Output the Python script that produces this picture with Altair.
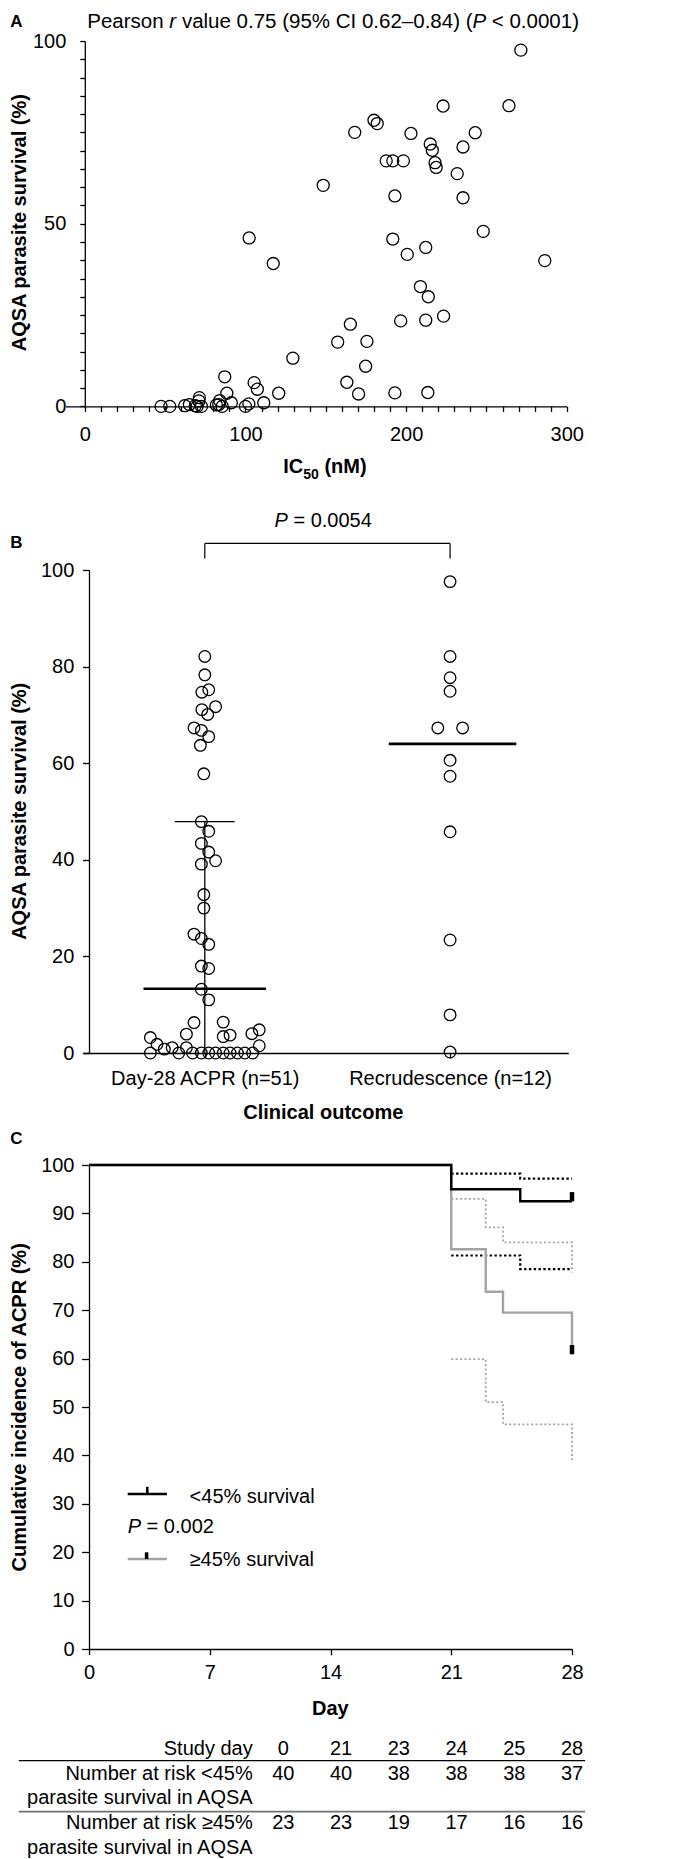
import altair as alt
import pandas as pd

FONT = "Liberation Sans"

# ---------------- Panel A: IC50 vs AQSA survival ----------------
ic50_nM = [271.4, 264.0, 223.0, 180.0, 182.0, 168.0, 203.0, 243.0, 215.0, 216.3,
           235.4, 187.6, 191.7, 198.3, 218.0, 218.7, 231.8, 148.4, 193.0, 235.4,
           248.0, 102.3, 191.7, 212.2, 200.7, 117.3, 286.3, 208.9, 213.8, 223.3,
           196.6, 212.2, 165.3, 157.4, 175.6, 129.5, 174.8, 163.1, 170.4, 193.0,
           213.5, 47.5, 52.9, 62.2, 65.1, 68.8, 71.0, 71.3, 69.9, 72.6,
           81.9, 83.4, 85.5, 87.1, 88.4, 91.2, 100.0, 102.1, 105.4, 107.4,
           111.4, 120.7, 84.0]
aqsa_A = [97.5, 82.3, 82.2, 78.3, 77.4, 75.0, 74.7, 74.9, 71.8, 70.1,
          71.0, 67.2, 67.2, 67.2, 66.7, 65.4, 63.7, 60.5, 57.6, 57.1,
          47.9, 46.1, 45.8, 43.5, 41.6, 39.1, 39.9, 32.8, 30.0, 24.7,
          23.4, 23.6, 22.5, 17.6, 17.8, 13.2, 11.0, 6.6, 3.4, 3.7,
          3.8, 0.0, 0.0, 0.2, 0.5, 0.2, 1.5, 2.4, 0.0, 0.0,
          0.4, 0.5, 0.0, 8.1, 3.6, 1.0, 0.0, 0.7, 6.5, 4.7,
          1.0, 3.6, 1.6]

# ---------------- Panel B: survival by clinical outcome ----------------
outcomes = ["Day-28 ACPR (n=51)", "Recrudescence (n=12)"]
acpr_surv = [82.1, 78.3, 74.7, 75.2, 71.1, 71.7, 70.1, 67.3, 66.8, 65.5, 63.7, 57.8,
             47.9, 45.9, 43.4, 41.6, 39.1, 39.8, 32.8, 30.0, 24.6, 23.7, 22.5, 18.0, 17.5, 13.2, 11.0,
             6.3, 6.4, 3.9, 3.4, 3.7, 3.2, 4.0, 4.8, 1.8, 1.1, 0.8, 1.1, 1.5,
             0, 0, 0, 0, 0, 0, 0, 0, 0, 0, 0]
acpr_jitter = [0, 0, -0.012, 0.016, -0.012, 0.044, 0.012, -0.044, -0.014, 0.016, -0.018, -0.004,
               -0.014, 0.016, -0.014, 0.016, -0.014, 0.044, -0.004, -0.004, -0.044, -0.014, 0.016, -0.014, 0.016, -0.014, 0.016,
               -0.044, 0.075, -0.075, 0.075, 0.103, -0.222, 0.192, 0.222, -0.195, -0.133, -0.165, -0.075, 0.222,
               -0.222, -0.106, -0.050, -0.014, 0.016, 0.044, 0.075, 0.103, 0.133, 0.163, 0.195]
recr_surv = [97.6, 82.1, 77.7, 74.9, 67.3, 67.3, 60.6, 57.3, 45.8, 23.4, 7.9, 0.2]
recr_jitter = [0, 0, 0, 0, -0.050, 0.051, 0, 0, 0, 0, 0, 0]
group_median = [13.3, 64.0]
acpr_q3 = 47.9
acpr_q1 = 0.0

# ---------------- Panel C: Kaplan-Meier ----------------
km_lt45_day = [0, 21, 25, 28]
km_lt45_pct = [100, 95.0, 92.5, 92.5]
ci_lt45_day = [21, 25, 28]
ci_lt45_upper = [98.2, 97.2, 97.2]
ci_lt45_lower = [81.3, 78.5, 78.5]
km_ge45_day = [0, 21, 23, 24, 28, 28]
km_ge45_pct = [100, 82.6, 73.8, 69.5, 69.5, 60.9]
ci_ge45_day = [21, 23, 24, 28, 28]
ci_ge45_upper = [93.0, 87.1, 84.0, 84.0, 77.8]
ci_ge45_lower = [59.9, 51.0, 46.4, 46.4, 38.7]
censor_day = [28, 28]
censor_lo = [92.5, 60.9]
censor_hi = [94.4, 62.8]

# ---------------- Number-at-risk table ----------------
study_days = [0, 21, 23, 24, 25, 28]
at_risk_lt45 = [40, 40, 38, 38, 38, 37]
at_risk_ge45 = [23, 23, 19, 17, 16, 16]

# ---------------- layout (page pixels) ----------------
X0 = 86.7
TOP_A, H_A = 39.3, 365.4
TOP_B = TOP_A + H_A
H_B = 646.0
TOP_C = TOP_B + H_B
H_C = 596.0
TOP_D = TOP_C + H_C
H_D = 212.0

one = pd.DataFrame({"k": [0]})
GRAY = "#a3a3a3"


def label(text, x, y, top, size=20, weight="normal", style="normal", align="left",
          baseline="middle", angle=0):
    return alt.Chart(one).mark_text(
        text=text, font=FONT, fontSize=size, fontWeight=weight, fontStyle=style,
        align=align, baseline=baseline, angle=angle, color="black", limit=0
    ).encode(x=alt.value(x - X0), y=alt.value(y - top))


def hline(x1, x2, y, top, color="black", width=1.3):
    return alt.Chart(one).mark_rule(color=color, strokeWidth=width).encode(
        x=alt.value(x1 - X0), x2=alt.value(x2 - X0), y=alt.value(y - top))


def vline(x, y1, y2, top, color="black", width=1.3):
    return alt.Chart(one).mark_rule(color=color, strokeWidth=width).encode(
        x=alt.value(x - X0), y=alt.value(y1 - top), y2=alt.value(y2 - top))


# ================= Panel A =================
dfA = pd.DataFrame({"ic50": ic50_nM, "surv": aqsa_A})
xA = alt.X("ic50:Q", scale=alt.Scale(domain=[-12, 300], range=[-23.5, 477.8], nice=False, zero=False),
           axis=alt.Axis(values=list(range(0, 301, 10)), tickSize=5, labelPadding=13,
                         labelExpr="datum.value % 100 == 0 ? datum.label : ''", title=None))
yA = alt.Y("surv:Q", scale=alt.Scale(domain=[0, 100], nice=False),
           axis=alt.Axis(values=list(range(0, 101, 5)), tickSize=5, labelPadding=14, offset=4.2,
                         labelExpr="datum.value % 50 == 0 ? datum.label : ''", title=None))
pointsA = alt.Chart(dfA).mark_point(shape="circle", filled=False, size=145, strokeWidth=1.3,
                                    color="black", opacity=1).encode(x=xA, y=yA)
anchor = alt.Chart(one).mark_rect(opacity=0).encode(
    x=alt.value(7 - X0), x2=alt.value(8 - X0), y=alt.value(7 - TOP_A), y2=alt.value(8 - TOP_A))

TS = 20.5  # title font size
TY = 20.0  # title line centre (page px)
panelA = alt.layer(
    pointsA, anchor,
    label("A", 8, TY, TOP_A, size=17, weight="bold"),
    label("Pearson", 85, TY, TOP_A, size=TS),
    label("r", 167.0, TY, TOP_A, size=TS, style="italic"),
    label("value 0.75 (95% CI 0.62\u20130.84) (", 179.6, TY, TOP_A, size=TS),
    label("P", 470.1, TY, TOP_A, size=TS, style="italic"),
    label("< 0.0001)", 489.5, TY, TOP_A, size=TS),
    label("AQSA parasite survival (%)", 18, 221, TOP_A, weight="bold", align="center", angle=270),
    label("IC", 281, 471.7, TOP_A, weight="bold", baseline="alphabetic"),
    label("50", 301, 477.5, TOP_A, size=14, weight="bold", baseline="alphabetic"),
    label("(nM)", 322.1, 471.7, TOP_A, weight="bold", baseline="alphabetic"),
).properties(width=478, height=H_A)

# ================= Panel B =================
dfB = pd.DataFrame({
    "x": [1 + j for j in acpr_jitter] + [2 + j for j in recr_jitter],
    "y": acpr_surv + recr_surv,
})
lab_expr = "datum.value == 1 ? '%s' : '%s'" % (outcomes[0], outcomes[1])
xB = alt.X("x:Q", scale=alt.Scale(domain=[0.503, 2.482], range=[-6.1, 479.3], nice=False, zero=False),
           axis=alt.Axis(values=[1, 2], tickSize=5, labelPadding=10, labelExpr=lab_expr, title=None,
                         labelLimit=400))
yB = alt.Y("y:Q", scale=alt.Scale(domain=[0, 100], range=[H_B, 163.0], nice=False),
           axis=alt.Axis(values=[0, 20, 40, 60, 80, 100], tickSize=6.5, labelPadding=8.7, title=None))
pointsB = alt.Chart(dfB).mark_point(shape="circle", filled=False, size=135, strokeWidth=1.3,
                                    color="black", opacity=1).encode(x=xB, y=yB)
med_df = pd.DataFrame({"x": [0.75, 1.75], "x2": [1.25, 2.27], "y": group_median})
medians = alt.Chart(med_df).mark_rule(color="black", strokeWidth=2.6).encode(x=xB, x2="x2:Q", y=yB)
iqr_df = pd.DataFrame({"x": [1.0], "y": [acpr_q1], "y2": [acpr_q3]})
iqr = alt.Chart(iqr_df).mark_rule(color="black", strokeWidth=1.3).encode(x=xB, y=yB, y2="y2:Q")
cap_df = pd.DataFrame({"x": [0.878], "x2": [1.122], "y": [acpr_q3]})
cap = alt.Chart(cap_df).mark_rule(color="black", strokeWidth=1.3).encode(x=xB, x2="x2:Q", y=yB)
br_h = alt.Chart(pd.DataFrame({"x": [1.0], "x2": [2.0], "y": [105.5]})).mark_rule(
    color="black", strokeWidth=1.2).encode(x=xB, x2="x2:Q", y=yB)
br_v = alt.Chart(pd.DataFrame({"x": [1.0, 2.0], "y": [105.5, 105.5], "y2": [102.4, 102.4]})).mark_rule(
    color="black", strokeWidth=1.2).encode(x=xB, y=yB, y2="y2:Q")

panelB = alt.layer(
    pointsB, iqr, cap, medians, br_h, br_v,
    label("P", 272.2, 519, TOP_B, style="italic"),
    label("= 0.0054", 291.1, 519, TOP_B),
    label("B", 8, 541, TOP_B, size=17, weight="bold"),
    label("AQSA parasite survival (%)", 18, 809, TOP_B, weight="bold", align="center", angle=270),
    label("Clinical outcome", 321, 1111, TOP_B, weight="bold", align="center"),
).properties(width=479, height=H_B)

# ================= Panel C =================
xC = alt.X("day:Q", scale=alt.Scale(domain=[0, 28], range=[0, 483], nice=False, zero=False),
           axis=alt.Axis(values=[0, 7, 14, 21, 28], tickSize=5.7, labelPadding=7.8, title=None))
yC = alt.Y("pct:Q", scale=alt.Scale(domain=[0, 100], range=[H_C, 112.0], nice=False),
           axis=alt.Axis(values=list(range(0, 101, 10)), tickSize=7.4, labelPadding=7.6, title=None))


def km_line(days, vals, color, width, dash=None):
    kw = dict(interpolate="step-after", color=color, strokeWidth=width)
    if dash is not None:
        kw["strokeDash"] = dash
    return alt.Chart(pd.DataFrame({"day": days, "pct": vals})).mark_line(**kw).encode(x=xC, y=yC)


censor = alt.Chart(pd.DataFrame({"day": censor_day, "pct": censor_lo, "pct2": censor_hi})).mark_rule(
    color="black", strokeWidth=4.5).encode(x=xC, y=yC, y2="pct2:Q")

panelC = alt.layer(
    km_line(ci_ge45_day, ci_ge45_upper, GRAY, 1.8, [2, 2.4]),
    km_line(ci_ge45_day, ci_ge45_lower, GRAY, 1.8, [2, 2.4]),
    km_line(ci_lt45_day, ci_lt45_upper, "black", 2.2, [2.4, 2.4]),
    km_line(ci_lt45_day, ci_lt45_lower, "black", 2.2, [2.4, 2.4]),
    km_line(km_ge45_day, km_ge45_pct, GRAY, 2.4),
    km_line(km_lt45_day, km_lt45_pct, "black", 2.4),
    censor,
    label("C", 8, 1137, TOP_C, size=17, weight="bold"),
    label("Cumulative incidence of ACPR (%)", 18, 1405, TOP_C, weight="bold", align="center", angle=270),
    hline(125.4, 164.6, 1491.7, TOP_C, width=2.6),
    vline(145.0, 1484.5, 1491.7, TOP_C, width=2.6),
    label("<45% survival", 187.3, 1494.3, TOP_C),
    label("P", 125.4, 1524.3, TOP_C, style="italic"),
    label("= 0.002", 144.3, 1524.3, TOP_C),
    hline(125.4, 164.6, 1556.7, TOP_C, color=GRAY, width=2.6),
    vline(144.3, 1550.0, 1556.7, TOP_C, width=3.5),
    label("\u226545% survival", 187.3, 1557.7, TOP_C),
    label("Day", 328, 1707, TOP_C, weight="bold", align="center"),
).properties(width=483, height=H_C)

# ================= Table =================
dfT = pd.DataFrame({
    "day": [str(d) for d in study_days],
    "lt": [str(v) for v in at_risk_lt45],
    "ge": [str(v) for v in at_risk_ge45],
})
xT = alt.X("day:N", scale=alt.Scale(type="point", domain=[str(d) for d in study_days],
                                    range=[194.3, 483.0], padding=0), axis=None)


def col_text(field, y):
    return alt.Chart(dfT).mark_text(font=FONT, fontSize=20, align="center", baseline="middle",
                                    color="black").encode(x=xT, y=alt.value(y - TOP_D), text=field + ":N")


panelD = alt.layer(
    col_text("day", 1746.5),
    col_text("lt", 1772),
    col_text("ge", 1821),
    label("Study day", 250.4, 1746.5, TOP_D, align="right"),
    label("Number at risk <45%", 250.4, 1772, TOP_D, align="right"),
    label("parasite survival in AQSA", 250.4, 1796, TOP_D, align="right"),
    label("Number at risk \u226545%", 250.4, 1821, TOP_D, align="right"),
    label("parasite survival in AQSA", 250.4, 1846, TOP_D, align="right"),
    hline(16.5, 582.8, 1758.3, TOP_D, width=1.4),
    hline(16.5, 582.8, 1809.3, TOP_D, color="#707070", width=1.8),
    hline(16.5, 582.8, 1857.3, TOP_D, width=1.4),
).properties(width=483, height=H_D)

chart = alt.vconcat(panelA, panelB, panelC, panelD, spacing=0, bounds="flush", padding=0).configure_view(
    stroke="transparent"
).configure_axis(
    grid=False, domainColor="black", tickColor="black", labelColor="black", labelFont=FONT,
    labelFontSize=20, domainWidth=1.3, tickWidth=1.3, labelFlush=False, labelOverlap=False,
    labelLimit=400
)

chart.save("out.html", embed_options={"renderer": "svg", "actions": False})
